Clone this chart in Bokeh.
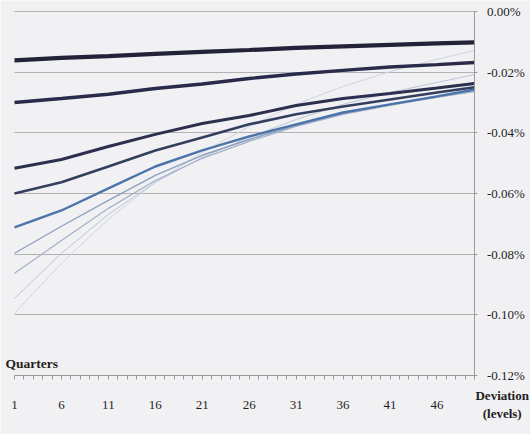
from bokeh.plotting import figure
from bokeh.models import Range1d, FixedTicker, Label
from bokeh.embed import file_html
from bokeh.resources import INLINE

quarters = [1, 6, 11, 16, 21, 26, 31, 36, 41, 46, 50]
s1 = [-0.0161, -0.0153, -0.0147, -0.0140, -0.0133, -0.0127, -0.0120, -0.0115, -0.0110, -0.0105, -0.0102]
s2 = [-0.0300, -0.0287, -0.0273, -0.0254, -0.0239, -0.0221, -0.0206, -0.0194, -0.0183, -0.0175, -0.0168]
s3 = [-0.0517, -0.0488, -0.0445, -0.0405, -0.0369, -0.0343, -0.0310, -0.0287, -0.0270, -0.0252, -0.0237]
s4 = [-0.0600, -0.0563, -0.0511, -0.0458, -0.0415, -0.0372, -0.0339, -0.0313, -0.0290, -0.0267, -0.0250]
s5 = [-0.0712, -0.0656, -0.0583, -0.0511, -0.0458, -0.0412, -0.0372, -0.0333, -0.0306, -0.0280, -0.0257]
s6 = [-0.0797, -0.0708, -0.0623, -0.0540, -0.0474, -0.0422, -0.0376, -0.0336, -0.0306, -0.0280, -0.0260]
s7 = [-0.0863, -0.0755, -0.0649, -0.0557, -0.0484, -0.0428, -0.0379, -0.0339, -0.0310, -0.0283, -0.0264]
s8 = [-0.0946, -0.0797, -0.0669, -0.0563, -0.0481, -0.0415, -0.0356, -0.0306, -0.0267, -0.0234, -0.0208]
s9 = [-0.0995, -0.0830, -0.0685, -0.0563, -0.0465, -0.0379, -0.0306, -0.0247, -0.0198, -0.0158, -0.0128]

y_ticks = [0.0, -0.02, -0.04, -0.06, -0.08, -0.10, -0.12]
y_tick_labels = ["0.00%", "-0.02%", "-0.04%", "-0.06%", "-0.08%", "-0.10%", "-0.12%"]
x_label_quarters = [1, 6, 11, 16, 21, 26, 31, 36, 41, 46]
x_title = "Quarters"
y_title_1 = "Deviation"
y_title_2 = "(levels)"

BG = "#f1f1f3"
FONT = "Liberation Serif"
TXT = "#1e1e1e"
AX = "#9a9a9a"

Q_START, Q_END = 0.95, 50.05
Y_MIN, Y_MAX = -0.12, 0.0

p = figure(width=530, height=434, output_backend="svg", toolbar_location=None,
           x_range=Range1d(-0.4913, 55.965), y_range=Range1d(-0.13945, 0.003626),
           y_axis_location="right", min_border=0)
p.min_border_left = 0
p.min_border_right = 0
p.min_border_top = 0
p.min_border_bottom = 0
p.background_fill_color = BG
p.border_fill_color = BG
p.outline_line_color = None

# grid (limited to the chart area)
p.xgrid.grid_line_color = None
p.ygrid.grid_line_color = "#b2b2b2"
p.ygrid.grid_line_width = 1
p.ygrid.ticker = FixedTicker(ticks=y_ticks)
p.ygrid.cross_bounds = (Q_START, Q_END)

series = [
    (s9, "#ccd5e3", 1.0),
    (s8, "#b9c5d7", 1.0),
    (s7, "#a2b2c9", 1.2),
    (s6, "#8da1bf", 1.4),
    (s5, "#4b74aa", 2.4),
    (s4, "#343f60", 2.6),
    (s3, "#2c2f4e", 3.0),
    (s2, "#2a2a4a", 3.4),
    (s1, "#222238", 4.2),
]
for ys, col, w in series:
    p.line(quarters, ys, line_color=col, line_width=w)

# right axis
ya = p.yaxis[0]
ya.fixed_location = Q_END
ya.bounds = (Y_MIN, Y_MAX)
ya.ticker = FixedTicker(ticks=y_ticks)
ya.major_label_overrides = {t: l for t, l in zip(y_ticks, y_tick_labels)}
ya.major_label_text_font = FONT
ya.major_label_text_font_size = "13px"
ya.major_label_text_color = TXT
ya.axis_line_color = AX
ya.major_tick_line_color = AX
ya.major_tick_out = 3
ya.major_tick_in = 0
ya.minor_tick_line_color = None
ya.major_label_standoff = 9

# bottom axis
xa = p.xaxis[0]
xa.fixed_location = Y_MIN
xa.bounds = (Q_START, Q_END)
all_q = list(range(1, 51))
xa.ticker = FixedTicker(ticks=all_q)
xa.major_label_overrides = {q: (str(q) if q in x_label_quarters else "") for q in all_q}
xa.major_label_text_font = FONT
xa.major_label_text_font_size = "13px"
xa.major_label_text_color = TXT
xa.axis_line_color = AX
xa.major_tick_line_color = AX
xa.major_tick_out = 4
xa.major_tick_in = 0
xa.minor_tick_line_color = None
xa.major_label_standoff = 21

p.add_layout(Label(x=0.04, y=-0.1160, text=x_title, text_font=FONT,
                   text_font_size="13.5px", text_font_style="bold",
                   text_color=TXT, text_baseline="middle", text_align="left"))
p.add_layout(Label(x=52.95, y=-0.1266, text=y_title_1, text_font=FONT,
                   text_font_size="13px", text_font_style="bold",
                   text_color=TXT, text_baseline="middle", text_align="center"))
p.add_layout(Label(x=52.95, y=-0.1325, text=y_title_2, text_font=FONT,
                   text_font_size="13px", text_font_style="bold",
                   text_color=TXT, text_baseline="middle", text_align="center"))

open("out.html", "w").write(file_html(p, INLINE))
